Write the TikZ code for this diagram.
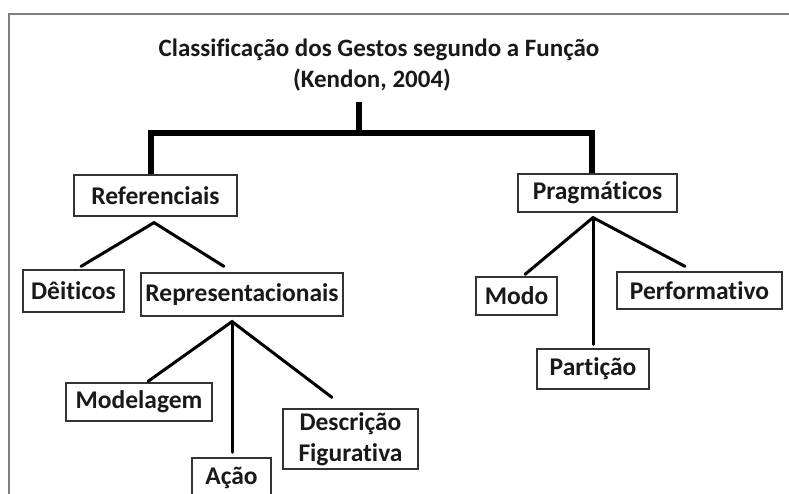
\documentclass[tikz,border=0pt]{standalone}
\usepackage{fontspec}
\setmainfont[Ligatures=NoCommon]{Carlito}
\usetikzlibrary{positioning}
\tikzset{
  box/.style={draw=black!80, line width=1.2pt, fill=white, inner sep=0pt, font=\bfseries\fontsize{25.5}{30}\selectfont, text=black!90, align=center},
  titletext/.style={inner sep=0pt, anchor=base, font=\bfseries\fontsize{25}{30}\selectfont, text=black!90},
  trunk/.style={line width=6pt, line join=miter, line cap=butt},
  conn/.style={line width=3pt, line cap=round},
  frameline/.style={draw=black!50, line width=1.5pt}
}
\begin{document}
\begin{tikzpicture}[x=1pt,y=-1pt]
\useasboundingbox (0,0) rectangle (789,494);
\draw[frameline] (800,14) -- (9,14) -- (9,510);
% title
\node[titletext] (title1) at (379,57) {Classificação dos Gestos segundo a Função};
\node[titletext] (title2) at (372,88) {(Kendon, 2004)};
% boxes
\node[box, minimum width=163pt, minimum height=41pt] (ref) at (155.5,195.5) {Referenciais};
\node[box, minimum width=159pt, minimum height=38pt] (prag) at (597.5,193) {Pragmáticos};
\node[box, minimum width=101pt, minimum height=42pt] (deit) at (73.5,291) {Dêiticos};
\node[box, minimum width=202pt, minimum height=43pt] (rep) at (242,294.5) {Representacionais};
\node[box, minimum width=81pt, minimum height=38pt] (modo) at (516.5,296) {Modo};
\node[box, minimum width=165pt, minimum height=37pt] (perf) at (699.5,290.5) {Performativo};
\node[box, minimum width=112pt, minimum height=40pt] (part) at (593,369) {Partição};
\node[box, minimum width=146pt, minimum height=38pt] (model) at (139,402) {Modelagem};
\node[box, minimum width=79pt, minimum height=40pt] (acao) at (231.5,478) {Ação};
\node[box, minimum width=135pt, minimum height=60pt, font=\bfseries\fontsize{25.5}{31}\selectfont] (desc) at (350.5,439) {Descrição\\Figurativa};
% trunk
\coordinate (stemtop) at (359,102);
\coordinate (jL) at (151,133);
\coordinate (jR) at (592,133);
\draw[trunk] (stemtop) -- (stemtop |- jL);
\draw[trunk] (ref.north -| jL) -- (jL) -- (jR) -- (prag.north -| jR);
% apexes
\coordinate (refapex) at ([xshift=-1.5pt,yshift=-6pt]ref.south);
\coordinate (repapex) at ([xshift=-10pt,yshift=-5pt]rep.south);
\coordinate (pragapex) at ([xshift=-4.5pt,yshift=-5pt]prag.south);
% connectors
\draw[conn] ([xshift=7.5pt,yshift=3pt]deit.north) -- (refapex) -- ([xshift=-18pt,yshift=6pt]rep.north);
\draw[conn] ([xshift=9pt,yshift=1pt]model.north) -- (repapex) -- ([xshift=-18.5pt,yshift=11pt]desc.north);
\draw[conn] (repapex) -- ([yshift=5pt]acao.north -| repapex);
\draw[conn] ([xshift=8.5pt,yshift=2pt]modo.north) -- (pragapex) -- ([xshift=-14.5pt,yshift=5pt]perf.north);
\draw[conn] (pragapex) -- ([yshift=4pt]part.north -| pragapex);
\end{tikzpicture}
\end{document}
